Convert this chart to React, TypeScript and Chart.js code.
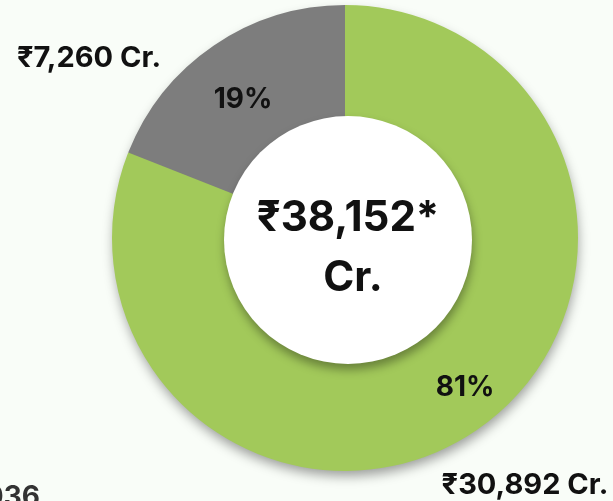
import React, { useEffect, useRef } from "react";
import { Chart, registerables } from "chart.js";

Chart.register(...registerables);

// ---- data ----
const categories = ["Green segment", "Grey segment"];
const values = [30892, 7260];
const sliceColors = ["#a2c95a", "#7d7d7d"];
const percentLabels = ["81%", "19%"];
const valueLabels = ["₹30,892 Cr.", "₹7,260 Cr."];
const centerSuffix = "Cr.";
const cornerLabel = "2036";

const FONT = '"Inter", "Noto Sans", "DejaVu Sans", sans-serif';
const BG = "#f9fdf8";

const total = values.reduce((a, b) => a + b, 0);
const centerLines = ["₹" + total.toLocaleString("en-IN") + "*", centerSuffix];

const decorPlugin = {
  id: "decor",
  beforeDraw(chart: any) {
    const ctx = chart.ctx;
    ctx.save();
    ctx.fillStyle = BG;
    ctx.fillRect(0, 0, chart.width, chart.height);
    ctx.restore();
  },
  beforeDatasetsDraw(chart: any) {
    const arc = chart.getDatasetMeta(0).data[0];
    if (!arc) return;
    const ctx = chart.ctx;
    ctx.save();
    ctx.shadowColor = "rgba(0,0,0,0.38)";
    ctx.shadowBlur = 12;
    ctx.shadowOffsetX = 1;
    ctx.shadowOffsetY = 6;
    ctx.fillStyle = sliceColors[0];
    ctx.beginPath();
    ctx.arc(arc.x, arc.y, arc.outerRadius - 1, 0, Math.PI * 2);
    ctx.fill();
    ctx.restore();
  },
  afterDatasetsDraw(chart: any) {
    const meta = chart.getDatasetMeta(0);
    const arc0 = meta.data[0];
    if (!arc0) return;
    const ctx = chart.ctx;
    const cx = arc0.x;
    const cy = arc0.y;
    const wx = cx + 3;
    const wy = cy + 2;

    // white centre disc with shadow
    ctx.save();
    ctx.shadowColor = "rgba(0,0,0,0.35)";
    ctx.shadowBlur = 10;
    ctx.shadowOffsetX = 1;
    ctx.shadowOffsetY = 6;
    ctx.fillStyle = "#ffffff";
    ctx.beginPath();
    ctx.arc(wx, wy, 124, 0, Math.PI * 2);
    ctx.fill();
    ctx.restore();

    ctx.save();
    ctx.fillStyle = "#111111";
    ctx.textAlign = "center";
    ctx.textBaseline = "middle";
    ctx.font = `bold 42px ${FONT}`;
    ctx.fillText(centerLines[0], wx, wy - 22);
    ctx.fillText(centerLines[1], wx + 5, wy + 38);

    // percentage labels inside the slices
    const nudges = [-0.078, -0.037];
    const radii = [192, 172];
    ctx.font = `bold 28px ${FONT}`;
    meta.data.forEach((a: any, i: number) => {
      const mid = (a.startAngle + a.endAngle) / 2 + nudges[i];
      const r = radii[i];
      ctx.fillText(percentLabels[i], cx + Math.cos(mid) * r, cy + Math.sin(mid) * r);
    });

    // value labels outside
    ctx.font = `bold 29px ${FONT}`;
    ctx.fillText(valueLabels[1], 89, 58);
    ctx.font = `bold 29px ${FONT}`;
    ctx.fillText(valueLabels[0], 525, 485);

    // clipped corner label
    ctx.fillStyle = "#333333";
    ctx.textAlign = "right";
    ctx.textBaseline = "alphabetic";
    ctx.font = `bold 28px ${FONT}`;
    ctx.fillText(cornerLabel, 40, 506);
    ctx.restore();
  },
};

export default function App() {
  const ref = useRef<HTMLCanvasElement | null>(null);

  useEffect(() => {
    document.body.style.margin = "0";
    document.body.style.background = BG;
    const canvas = ref.current;
    if (!canvas) return;
    const chart = new Chart(canvas, {
      type: "doughnut",
      data: {
        labels: categories,
        datasets: [
          {
            data: values,
            backgroundColor: sliceColors,
            borderWidth: 0,
            hoverOffset: 0,
            offset: 0,
          },
        ],
      },
      options: {
        responsive: false,
        animation: false,
        cutout: "50%",
        rotation: 0,
        layout: { padding: { left: 77, right: 0, top: 5, bottom: 30 } },
        plugins: {
          legend: { display: false },
          tooltip: { enabled: false },
          title: { display: false },
        },
        events: [],
      },
      plugins: [decorPlugin],
    });
    return () => chart.destroy();
  }, []);

  return (
    <canvas
      ref={ref}
      width={613}
      height={501}
      style={{ display: "block", width: 613, height: 501 }}
    />
  );
}
